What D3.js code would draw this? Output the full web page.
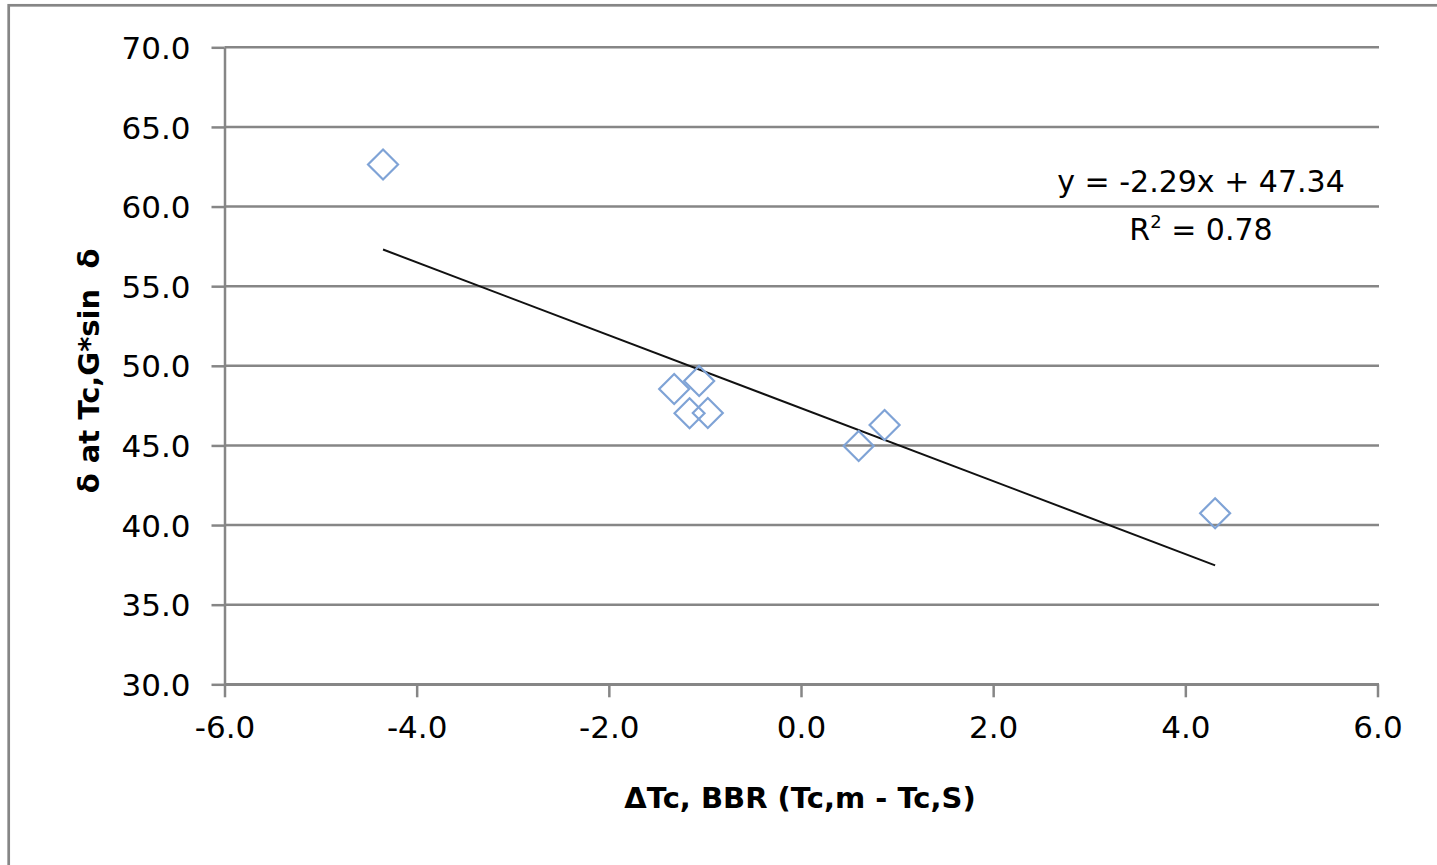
<!DOCTYPE html>
<html>
<head>
<meta charset="utf-8">
<script src="https://cdn.jsdelivr.net/npm/d3@7"></script>
<style>
  html, body { margin: 0; padding: 0; background: #fff; }
  svg { display: block; }
</style>
</head>
<body>
<svg id="chart" width="1437" height="865"></svg>
<script>
// Measured pairs: temperature offset vs. delta
const xValues = [-4.35, -1.32, -1.06, -1.16, -0.97, 0.60, 0.87, 4.31];
const yValues = [62.64, 48.54, 49.05, 47.02, 47.04, 44.96, 46.28, 40.74];

// Linear trend reported on the chart
const trendSlope = -2.29;
const trendIntercept = 47.34;
const rSquared = 0.78;

// Axis ticks
const xTicks = [-6, -4, -2, 0, 2, 4, 6];
const yTicks = [30, 35, 40, 45, 50, 55, 60, 65, 70];

const xTitle = "ΔTc, BBR (Tc,m - Tc,S)";
const yTitle = "δ at Tc,G*sin  δ";

const svg = d3.select("#chart");
const gridColor = "#868686";
const fontFamily = "'DejaVu Sans', Verdana, sans-serif";

const x = d3.scaleLinear().domain([-6, 6]).range([224.5, 1377.5]);
const y = d3.scaleLinear().domain([30, 70]).range([684.3, 47.3]);
const fmt = d => d.toFixed(1);

// Outer chart frame (top and left edges visible)
svg.append("rect")
  .attr("x", 8.7).attr("y", 5.3)
  .attr("width", 1500).attr("height", 1000)
  .attr("fill", "none").attr("stroke", gridColor).attr("stroke-width", 2.7);

// Horizontal gridlines
svg.append("g").selectAll("line").data(yTicks).join("line")
  .attr("x1", x(-6)).attr("x2", x(6) + 1.5)
  .attr("y1", d => y(d)).attr("y2", d => y(d))
  .attr("stroke", gridColor).attr("stroke-width", 2.5);

// Y axis
const yAxis = svg.append("g")
  .attr("transform", `translate(${x(-6)},0)`)
  .call(d3.axisLeft(y).tickValues(yTicks).tickFormat(fmt).tickSize(13).tickSizeOuter(0).tickPadding(21));
yAxis.select(".domain").attr("stroke", gridColor).attr("stroke-width", 2.5);
yAxis.selectAll(".tick line").attr("stroke", gridColor).attr("stroke-width", 2.5);
yAxis.selectAll(".tick text")
  .attr("font-family", fontFamily).attr("font-size", 31).attr("fill", "#000")
  .attr("dy", "0.36em");

// X axis
const xAxis = svg.append("g")
  .attr("transform", `translate(0,${y(30)})`)
  .call(d3.axisBottom(x).tickValues(xTicks).tickFormat(fmt).tickSize(13).tickSizeOuter(0).tickPadding(19));
xAxis.select(".domain").attr("stroke", gridColor).attr("stroke-width", 2.5);
xAxis.selectAll(".tick line").attr("stroke", gridColor).attr("stroke-width", 2.5);
xAxis.selectAll(".tick text")
  .attr("font-family", fontFamily).attr("font-size", 31).attr("fill", "#000");

// Trendline across the data range
const xMin = d3.min(xValues), xMax = d3.max(xValues);
svg.append("line")
  .attr("x1", x(xMin)).attr("y1", y(trendSlope * xMin + trendIntercept))
  .attr("x2", x(xMax)).attr("y2", y(trendSlope * xMax + trendIntercept))
  .attr("stroke", "#111").attr("stroke-width", 2);

// Diamond markers
const points = xValues.map((v, i) => ({ x: v, y: yValues[i] }));
const r = 15;
svg.append("g").selectAll("path").data(points).join("path")
  .attr("d", d => {
    const cx = x(d.x), cy = y(d.y);
    return `M${cx},${cy - r}L${cx + r},${cy}L${cx},${cy + r}L${cx - r},${cy}Z`;
  })
  .attr("fill", "none").attr("stroke", "#7fa3d6").attr("stroke-width", 2.2);

// Trend equation and R²
svg.append("text")
  .attr("x", 1201).attr("y", 192)
  .attr("text-anchor", "middle")
  .attr("font-family", fontFamily).attr("font-size", 30).attr("fill", "#000")
  .text(`y = ${trendSlope.toFixed(2)}x + ${trendIntercept.toFixed(2)}`);

const r2 = svg.append("text")
  .attr("x", 1201).attr("y", 240)
  .attr("text-anchor", "middle")
  .attr("font-family", fontFamily).attr("font-size", 30).attr("fill", "#000");
r2.append("tspan").text("R");
r2.append("tspan").attr("font-size", 18).attr("dy", -12).text("2");
r2.append("tspan").attr("dy", 12).text(` = ${rSquared.toFixed(2)}`);

// Axis titles
svg.append("text")
  .attr("x", 800).attr("y", 808)
  .attr("text-anchor", "middle")
  .attr("font-family", fontFamily).attr("font-size", 29).attr("font-weight", "bold").attr("fill", "#000")
  .text(xTitle);

svg.append("text")
  .attr("transform", "translate(99,371) rotate(-90)")
  .attr("text-anchor", "middle")
  .attr("xml:space", "preserve")
  .style("white-space", "pre")
  .attr("font-family", fontFamily).attr("font-size", 29).attr("font-weight", "bold").attr("fill", "#000")
  .text(yTitle);
</script>
</body>
</html>
